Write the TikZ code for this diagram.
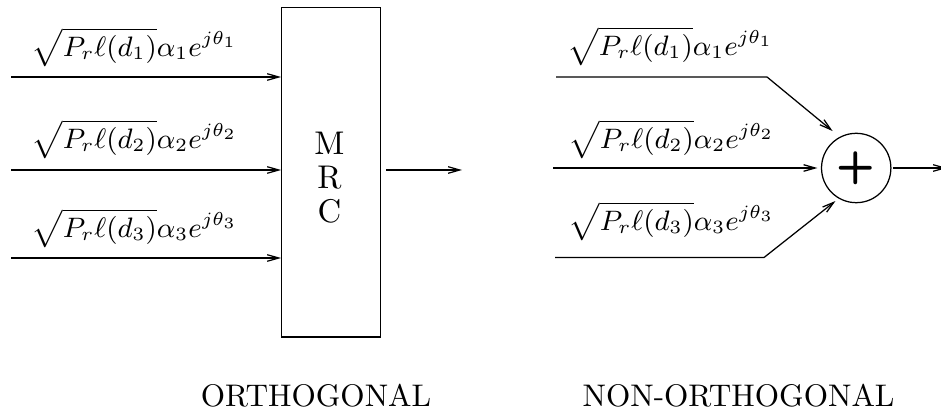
\documentclass[tikz,border=0pt]{standalone}
\usetikzlibrary{arrows.meta,positioning}
\tikzset{every picture/.style={line width=0.4pt}}

\begin{document}
\begin{tikzpicture}[x=0.32pt,y=0.32pt,yscale=-1,xscale=1,
  barb/.style={-{Straight Barb[length=3.7pt,width=2.1pt]}},
  sig/.style={anchor=south west,inner sep=0pt,font={\fontsize{9.2}{11}\selectfont}}]
\useasboundingbox (0,0) rectangle (941,411);

%Shape: Rectangle [id:mrc]
\node (mrc) [draw, minimum width=31.7pt, minimum height=105.5pt, inner sep=0pt] at (331.2,172.2) {};
% Text Node
\node (mrclabel) [align=center, inner sep=0pt, font={\fontsize{10.5}{10.9}\selectfont}] at (329.5,178) {M\\R\\C};

%Shape: Circle [id:sum]
\node (sum) [draw, circle, minimum size=22.2pt, inner sep=0pt, font=\sffamily\bfseries\Large] at (856.2,168) {+};

%Free ends
\coordinate (in1) at (11,77);
\coordinate (in2) at (11,170);
\coordinate (in3) at (11,258);
\coordinate (mrcout) at (462,170);
\coordinate (nin1) at (556,77);
\coordinate (bend1) at (767,77);
\coordinate (nin2) at (553,168);
\coordinate (nin3) at (555,257.5);
\coordinate (bend3) at (764,257.5);
\coordinate (sumout) at (947,168);

%Straight Lines [orthogonal]
\draw [barb] (in1) -- (mrc.west |- in1);
\draw [barb] (in2) -- (mrc.west |- in2);
\draw [barb] (in3) -- (mrc.west |- in3);
\draw [barb, shorten <=1.6pt] (mrc.east |- mrcout) -- (mrcout);

%Straight Lines [non-orthogonal]
\draw [barb, shorten >=2.9pt] (nin1) -- (bend1) -- (sum.118);
\draw [barb, shorten >=1.1pt] (nin2) -- (sum.west);
\draw [barb, shorten >=1.25pt] (nin3) -- (bend3) -- (sum.240);
\draw [barb, shorten <=0.6pt] (sum.east) -- (sumout);

% Text Node
\node (lbl1) [sig] at (31,67) {$\sqrt{P_r\ell(d_1)}\alpha_1e^{j\theta_1}$};
% Text Node
\node (lbl2) [sig] at (31,159) {$\sqrt{P_r\ell(d_2)}\alpha_2e^{j\theta_2}$};
% Text Node
\node (lbl3) [sig] at (31,248) {$\sqrt{P_r\ell(d_3)}\alpha_3e^{j\theta_3}$};
% Text Node
\node (rlbl1) [sig] at (567,66) {$\sqrt{P_r\ell(d_1)}\alpha_1e^{j\theta_1}$};
% Text Node
\node (rlbl2) [sig] at (568,159) {$\sqrt{P_r\ell(d_2)}\alpha_2e^{j\theta_2}$};
% Text Node
\node (rlbl3) [sig] at (568,241) {$\sqrt{P_r\ell(d_3)}\alpha_3e^{j\theta_3}$};

% Text Node
\node (orth) [anchor=base] at (316,406) {ORTHOGONAL};
% Text Node
\node (northo) [anchor=base] at (738.5,406) {NON-ORTHOGONAL};

\end{tikzpicture}
\end{document}
